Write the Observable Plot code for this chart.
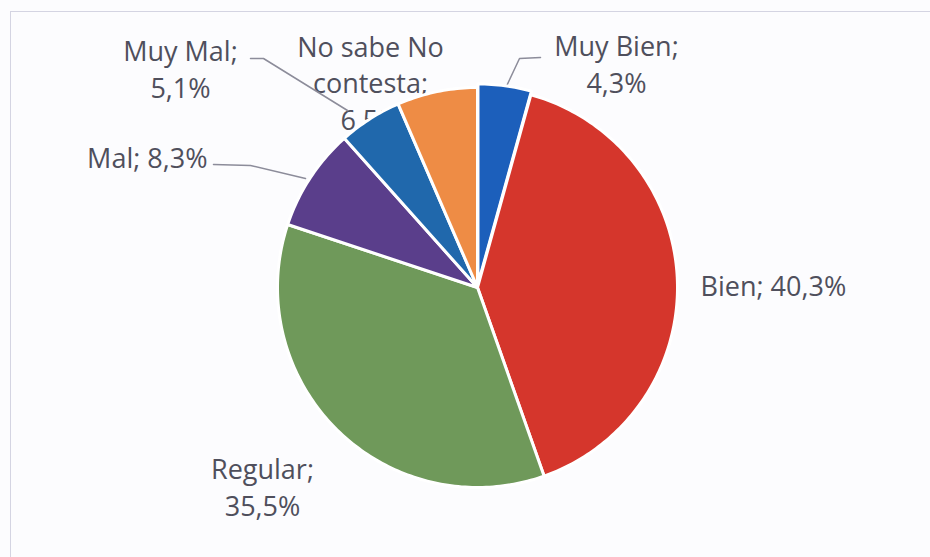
<!DOCTYPE html>
<html>
<head>
<meta charset="utf-8">
<script src="https://cdn.jsdelivr.net/npm/d3@7"></script>
<script src="https://cdn.jsdelivr.net/npm/@observablehq/plot@0.6"></script>
<style>
  html, body { margin: 0; padding: 0; background: #fcfcfe; }
  #wrap { position: relative; width: 930px; height: 557px; overflow: hidden; }
  #border { position: absolute; left: 10px; top: 11px; width: 960px; height: 600px;
            border: 1.5px solid #d4d4e2; box-sizing: border-box; }
  #chart { position: absolute; left: 0; top: 0; }
</style>
</head>
<body>
<div id="wrap"><div id="border"></div><div id="chart"></div></div>
<script>
// ---- data ----
const categories = ["Muy Bien", "Bien", "Regular", "Mal", "Muy Mal", "No sabe No contesta"];
const values = [4.3, 40.3, 35.5, 8.3, 5.1, 6.5];
const valueLabels = ["4,3%", "40,3%", "35,5%", "8,3%", "5,1%", "6,5%"];
const labelTexts = ["Muy Bien;\n4,3%", "Bien; 40,3%", "Regular;\n35,5%", "Mal; 8,3%", "Muy Mal;\n5,1%", "No sabe No\ncontesta;\n6,5%"];
const colors = ["#1c5fbb", "#d5362c", "#6f995a", "#5a3e8b", "#2068ac", "#ee8c45"];

// ---- layout (unit-circle coordinates, radius = 1) ----
const labelLayout = [
  {x: 0.695, y: 1.122, anchor: "middle"},
  {x: 1.115, y: 0.015, anchor: "start"},
  {x: -1.075, y: -0.99, anchor: "middle"},
  {x: -1.35, y: 0.655, anchor: "end"},
  {x: -1.485, y: 1.10, anchor: "middle"},
  {x: -0.535, y: 1.03, anchor: "middle"}
];
const leaderLines = [
  {name: "Muy Bien", pts: [[0.315, 1.15], [0.21, 1.145], [0.135, 0.985]]},
  {name: "Muy Mal", pts: [[-1.135, 1.145], [-1.07, 1.145], [-0.65, 0.885]]},
  {name: "Mal", pts: [[-1.32, 0.615], [-1.135, 0.61], [-0.86, 0.545]]}
];
const explode = {"Muy Bien": 0.018};

// ---- build slice polygons ----
const arcs = d3.pie().sort(null).value(d => d)(values);
const slicePts = [];
arcs.forEach((a, i) => {
  const name = categories[i];
  const mid = (a.startAngle + a.endAngle) / 2;
  const e = explode[name] || 0;
  const ox = e * Math.sin(mid), oy = e * Math.cos(mid);
  slicePts.push({name, x: ox, y: oy});
  const n = Math.max(4, Math.ceil((a.endAngle - a.startAngle) / (Math.PI / 180)));
  for (let k = 0; k <= n; k++) {
    const t = a.startAngle + (a.endAngle - a.startAngle) * k / n;
    slicePts.push({name, x: ox + Math.sin(t), y: oy + Math.cos(t)});
  }
  slicePts.push({name, x: ox, y: oy});
});

const labels = categories.map((c, i) => ({name: c, text: labelTexts[i], ...labelLayout[i]}));
const leaderPts = leaderLines.flatMap(l => l.pts.map(([x, y]) => ({name: l.name, x, y})));

const textColor = "#4f4f5c";
const fontFamily = "'Open Sans', sans-serif";
const textOpts = {x: "x", y: "y", text: "text", fill: textColor, fontSize: 27, lineHeight: 1.36, fontFamily};

const chart = Plot.plot({
  width: 930,
  height: 557,
  marginLeft: 277,
  marginRight: 253,
  marginTop: 87,
  marginBottom: 70,
  x: {domain: [-1, 1], axis: null},
  y: {domain: [-1, 1], axis: null},
  color: {domain: categories, range: colors},
  style: {background: "transparent", fontFamily},
  marks: [
    Plot.text(labels.filter(d => d.anchor === "middle"), {...textOpts, textAnchor: "middle"}),
    Plot.text(labels.filter(d => d.anchor === "start"), {...textOpts, textAnchor: "start"}),
    Plot.text(labels.filter(d => d.anchor === "end"), {...textOpts, textAnchor: "end"}),
    Plot.line(leaderPts, {x: "x", y: "y", z: "name", stroke: "#8c8c9a", strokeWidth: 1.5}),
    Plot.line(slicePts, {x: "x", y: "y", z: "name", fill: "name", stroke: "white", strokeWidth: 3, strokeLinejoin: "round"})
  ]
});
document.getElementById("chart").appendChild(chart);
</script>
</body>
</html>
